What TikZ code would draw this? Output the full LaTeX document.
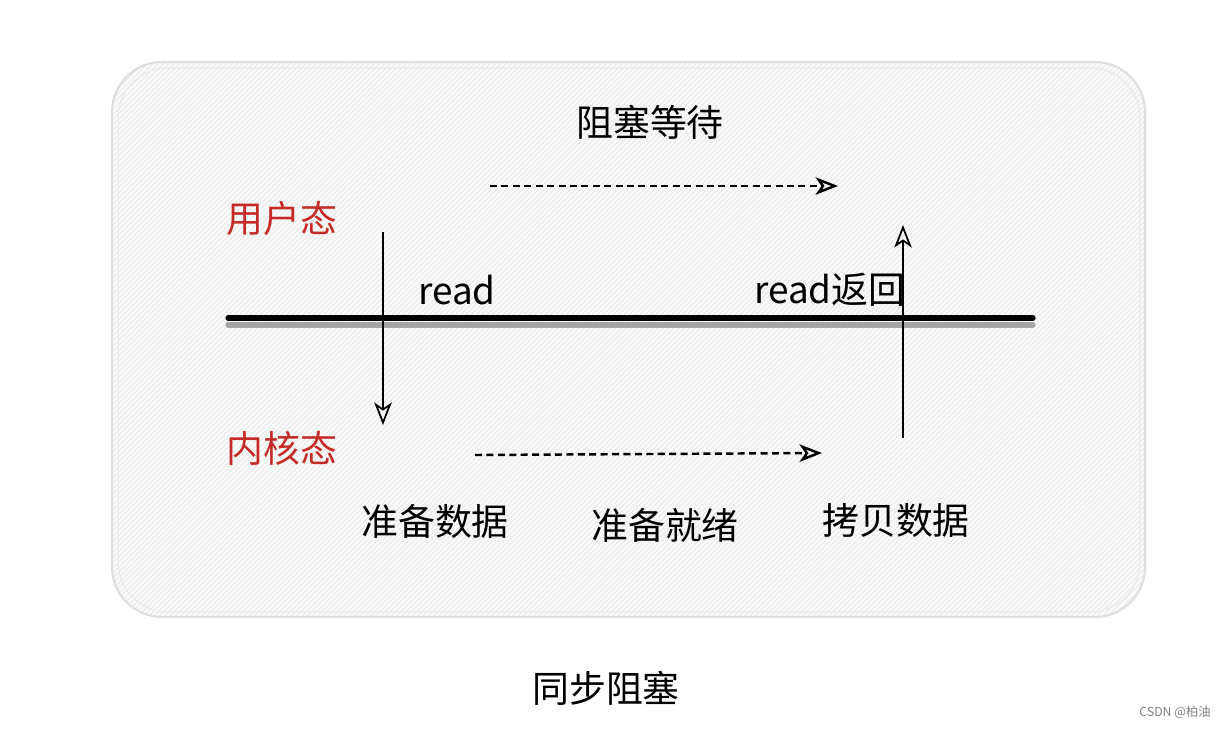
\documentclass[tikz,border=0pt]{standalone}
\usepackage{fontspec}
\setmainfont{Noto Sans CJK SC}
\usetikzlibrary{arrows.meta, patterns}
\definecolor{rojo}{RGB}{196,43,38}

\begin{document}
\begin{tikzpicture}[
            x=0.02cm, y=-0.02cm,
            font=\fontsize{21}{25}\selectfont,
            marco/.style={draw=black!13, line width=1.2pt, rounded corners=1cm,
                          preaction={fill=black!2},
                          pattern=north east lines, pattern color=black!10},
            estado/.style={text=rojo},
            flecha/.style={-{Stealth[open, length=4.5mm, width=3.5mm, inset=1.2mm]},
                           line width=1pt},
            discont/.style={flecha, line width=1.4pt, dash pattern=on 4pt off 2.5pt},
            marca/.style={font=\fontsize{7}{8}\selectfont, text=black!50}
        ]
        \useasboundingbox (0,0) rectangle (1220,728);

        % Fondo
        \draw[marco] (112,62) rectangle (1145,617);
        \draw[draw=black!8, line width=0.8pt, rounded corners=1cm] (118,68) rectangle (1140,612);

        % Textos
        \node (titulo)  at (650,122) {阻塞等待};
        \node[estado] (usuario) at (282,218) {用户态};
        \node[estado] (nucleo)  at (282,448) {内核态};
        \node (lectura) at (457,290) {read};
        \node (retorno) at (830,290) {read返回};
        \node (prepara) at (435,521) {准备数据};
        \node (listo)   at (665,525) {准备就绪};
        \node (copia)   at (896,521) {拷贝数据};
        \node (pie)     at (606,688) {同步阻塞};
        \node[marca] (firma) at (1175,712) {CSDN @柏油};

        % --- Frontera usuario / núcleo ---
        \coordinate (bi) at (228,318);
        \coordinate (bd) at (1033,318);
        \draw[black!35, line width=3pt, line cap=round] ([yshift=-4]bi) -- ([yshift=-4]bd);
        \draw[line width=3pt, line cap=round] (bi) -- (bd);

        % --- Llamada y retorno ---
        \coordinate (la) at (383,232);
        \coordinate (lb) at (383,425);
        \draw[flecha] (la) -- (lb);
        \coordinate (ra) at (903,438);
        \coordinate (rb) at (903,225);
        \draw[flecha] (ra) -- (rb);

        % --- Esperas ---
        \coordinate (ea) at (490,186);
        \coordinate (eb) at (838,186);
        \draw[discont] (ea) -- (eb);
        \coordinate (ka) at (475,455);
        \coordinate (kb) at (822,453);
        \draw[discont] (ka) -- (kb);

        \end{tikzpicture}
\end{document}
